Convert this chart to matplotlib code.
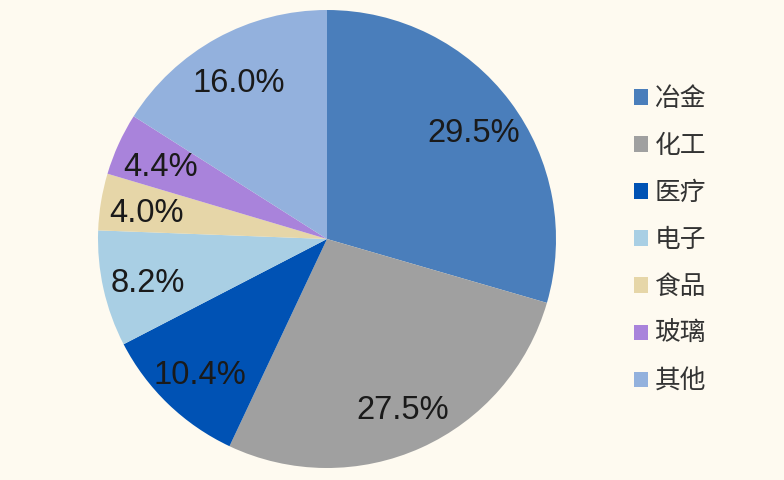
import matplotlib
matplotlib.use("Agg")
import matplotlib.pyplot as plt
from matplotlib.patches import Patch

plt.rcParams['font.family'] = ['Liberation Sans', 'Noto Sans CJK SC', 'DejaVu Sans']

categories = ["冶金", "化工", "医疗", "电子", "食品", "玻璃", "其他"]
values = [29.5, 27.5, 10.4, 8.2, 4.0, 4.4, 16.0]
colors = ["#4A7EBB", "#A0A0A0", "#0052B4", "#A9CFE4", "#E6D6A8", "#A983DB", "#93B1DD"]

bg = "#FEFAF0"
fig = plt.figure(figsize=(7.84, 4.80), dpi=100, facecolor=bg)
cx, cy, r = 327, 239, 229
ax = fig.add_axes([(cx - r) / 784, (480 - cy - r) / 480, 2 * r / 784, 2 * r / 480])
ax.set_facecolor(bg)

wedges, texts, autotexts = ax.pie(
    values, colors=colors, startangle=90, counterclock=False,
    autopct=lambda p: f"{p:.1f}%", pctdistance=0.8,
    wedgeprops=dict(linewidth=0),
    textprops=dict(fontsize=23.5, color="#1a1a1a", family=['Liberation Sans', 'DejaVu Sans']),
)
for t in autotexts:
    x, y = t.get_position()
    t.set_position((x, y - 0.02))
ax.set_aspect('equal')
ax.set_xlim(-1, 1)
ax.set_ylim(-1, 1)

handles = [Patch(facecolor=c, edgecolor='none') for c in colors]
leg = fig.legend(handles, categories, loc='upper left', bbox_to_anchor=(634 / 784, 1 - 86 / 480),
                 frameon=False, labelspacing=0.82, handlelength=0.55, handleheight=0.55,
                 handletextpad=0.25, borderpad=0, borderaxespad=0,
                 prop=dict(family=['Noto Sans CJK SC', 'DejaVu Sans'], size=18.5))
for t in leg.get_texts():
    t.set_color("#333333")

fig.savefig("out.png", dpi=100, facecolor=bg)
